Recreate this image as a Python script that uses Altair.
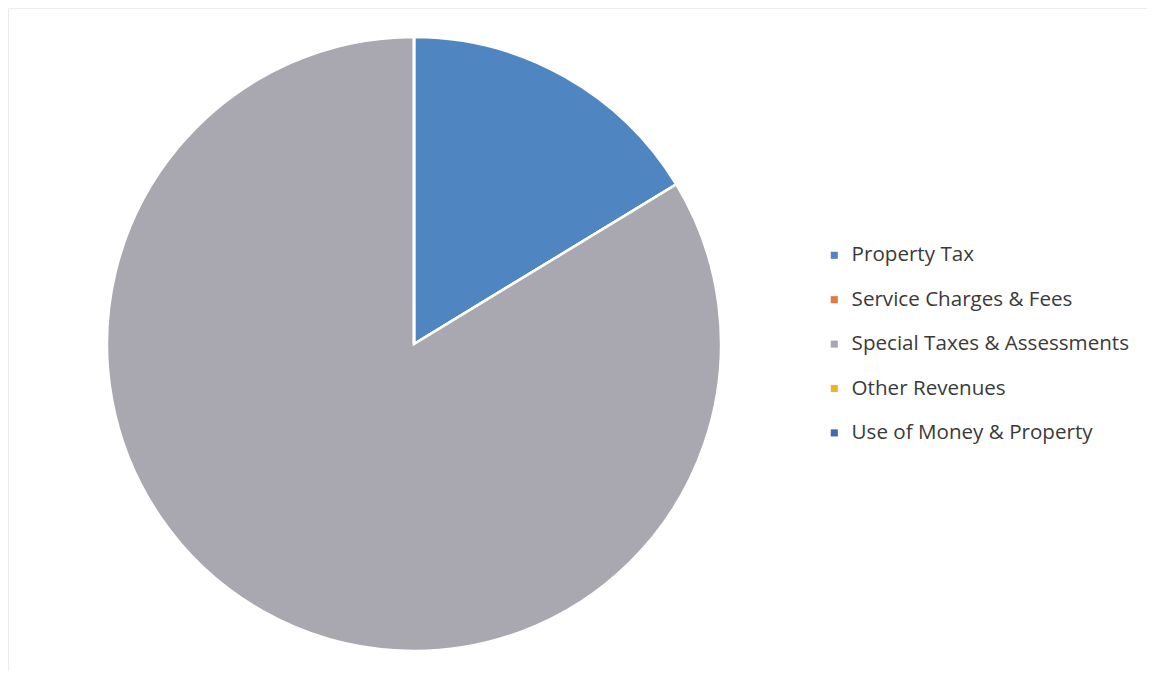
import altair as alt
import pandas as pd

categories = ["Property Tax", "Service Charges & Fees", "Special Taxes & Assessments",
              "Other Revenues", "Use of Money & Property"]
shares = [16.3, 0.0, 83.7, 0.0, 0.0]
colors = ["#4F86C2", "#E07B3C", "#A9A7B0", "#F2B31E", "#3F68B5"]

df = pd.DataFrame({"category": categories, "share": shares, "idx": list(range(len(categories)))})

pie = alt.Chart(df).mark_arc(radius=307, stroke="white", strokeWidth=2.5).encode(
    theta=alt.Theta("share:Q", stack=True),
    order=alt.Order("idx:Q"),
    color=alt.Color(
        "category:N",
        scale=alt.Scale(domain=categories, range=colors),
        sort=categories,
        legend=alt.Legend(
            title=None, orient="none", legendX=816, legendY=237,
            symbolType="square", symbolSize=50, symbolStrokeWidth=0,
            labelFont="Open Sans", labelFontSize=20.6, labelColor="#3a3a3a",
            rowPadding=23.4, labelOffset=7, labelLimit=400,
        ),
    ),
    x=alt.value(406),
    y=alt.value(336),
)

chart = pie.properties(
    width=1139, height=663,
    autosize=alt.AutoSizeParams(type="none"),
    padding=0,
).configure_view(stroke="#ececec")

chart.save("out.html", embed_options={"renderer": "svg", "actions": False})
